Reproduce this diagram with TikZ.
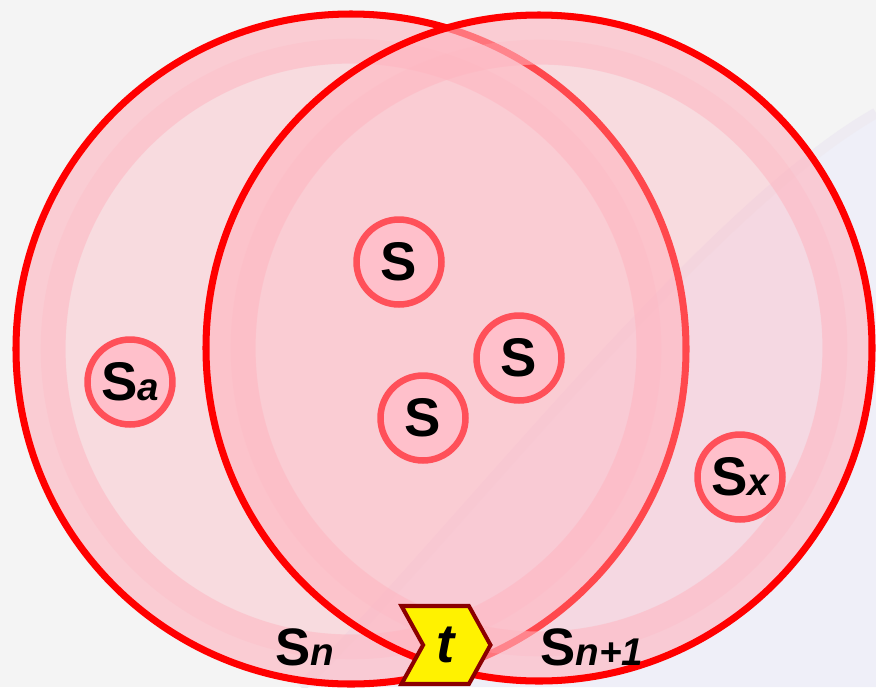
\documentclass[tikz,border=0pt]{standalone}
\usepackage{fontspec}
\setmainfont{Liberation Sans}
\usepackage{tikz}
\usetikzlibrary{shapes.symbols,positioning}
\definecolor{bggray}{HTML}{F4F4F4}
\definecolor{lavender}{HTML}{EFEFF8}
\definecolor{bandcol}{HTML}{EEEBF2}
\definecolor{setpink}{HTML}{FFB6C1}
\definecolor{setred}{HTML}{FF0000}
\definecolor{elemred}{HTML}{FF5059}
\definecolor{elemfill}{HTML}{FFC0CB}
\definecolor{tickred}{HTML}{8B0000}
\newcommand{\subsc}[1]{{\fontsize{22}{22}\selectfont\itshape #1}}

\begin{document}
\begin{tikzpicture}[
    x=0.02cm,
    y=-0.02cm,
    setfill/.style={fill=setpink, fill opacity=0.4},
    setring/.style={draw=setpink, draw opacity=0.4, line width=28pt},
    setinner/.style={draw=setpink, draw opacity=0.25, line width=14pt},
    setrim/.style={draw=setred, line width=4pt},
    element/.style={circle, draw=elemred, fill=elemfill, line width=3.7pt, minimum size=1.7cm, inner sep=0pt, font=\fontsize{31}{31}\selectfont\bfseries},
    setlabel/.style={font=\fontsize{30}{30}\selectfont\bfseries},
    timestep/.style={signal, signal to=east, signal from=west, signal pointer angle=122, draw=tickred, fill=yellow, line width=2.3pt, minimum width=1.78cm, minimum height=1.56cm, inner sep=0pt, font=\fontsize{31}{31}\selectfont\bfseries\itshape}
]
\useasboundingbox (0,0) rectangle (876,687);
\clip (0,0) rectangle (876,687);
\fill[bggray] (0,0) rectangle (876,687);
\fill[lavender] (876,118) .. controls (700,218) and (440,560) .. (305,687) -- (876,687) -- cycle;
\draw[bandcol, line width=6pt] (876,113) .. controls (700,213) and (437,557) .. (301,687);

\coordinate (cn) at (351,349);
\coordinate (cnext) at (539,348);
\foreach \c/\r in {cn/335, cnext/333} {
    \fill[setfill] (\c) circle (\r);
    \draw[setring] (\c) circle (\r-25);
    \draw[setinner] (\c) circle (\r-37);
    \draw[setrim] (\c) circle (\r);
}

\node[element] (s1) at (399,262) {S};
\node[element] (s2) at (519,358) {S};
\node[element] (s3) at (423,418) {S};
\node[element] (sa) at (130,382) {S\subsc{a}};
\node[element] (sx) at (740,477) {S\subsc{x}};
\node[setlabel] (sn) at (305,647) {S\subsc{n}};
\node[setlabel] (snext) at (592,647) {S\subsc{n+1}};
\node[timestep] (t) at (446,645) {t};
\end{tikzpicture}
\end{document}
